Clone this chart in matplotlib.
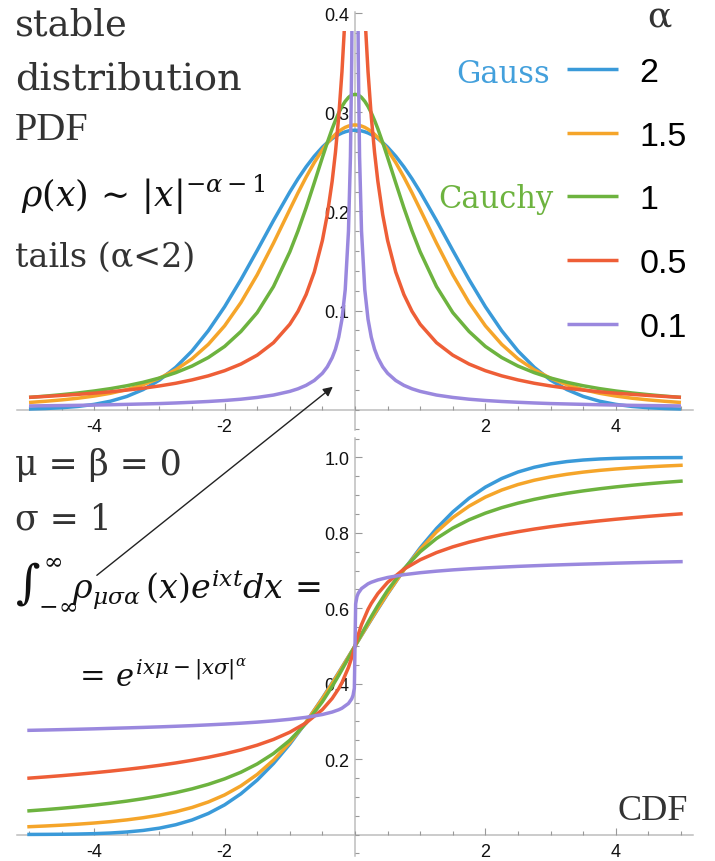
import numpy as np
import matplotlib
matplotlib.use("Agg")
import matplotlib.pyplot as plt
from matplotlib.patches import Rectangle, ConnectionPatch
from matplotlib.ticker import FixedLocator, MultipleLocator, FormatStrFormatter

plt.rcParams['mathtext.fontset'] = 'dejavuserif'

# stable distribution, mu = beta = 0, sigma = 1
alphas = ['2', '1.5', '1', '0.5', '0.1']
colors = ['#3a9ad9', '#f5a52a', '#6db33f', '#ee5e37', '#9a88de']

x_pdf = [-5, -4.75, -4.5, -4.25, -4, -3.75, -3.5, -3.25, -3, -2.75, -2.5, -2.25, -2,
         -1.75, -1.5, -1.25, -1, -0.875, -0.75, -0.625, -0.5, -0.425, -0.35, -0.3, -0.25,
         -0.2, -0.15, -0.1, -0.07, -0.05, -0.03, 0,
         0.03, 0.05, 0.07, 0.1, 0.15, 0.2, 0.25, 0.3, 0.35, 0.425, 0.5, 0.625, 0.75,
         0.875, 1, 1.25, 1.5, 1.75, 2, 2.25, 2.5, 2.75, 3, 3.25, 3.5, 3.75, 4, 4.25,
         4.5, 4.75, 5]

pdf_a2 = [0.0005, 0.0010, 0.0018, 0.0031, 0.0052, 0.0084, 0.0132, 0.0201, 0.0297, 0.0426,
          0.0591, 0.0796, 0.1038, 0.1312, 0.1607, 0.1909, 0.2197, 0.2330, 0.2451, 0.2558,
          0.2650, 0.2696, 0.2736, 0.2758, 0.2777, 0.2793, 0.2805, 0.2814, 0.2818, 0.2819,
          0.2820, 0.2821,
          0.2820, 0.2819, 0.2818, 0.2814, 0.2805, 0.2793, 0.2777, 0.2758, 0.2736, 0.2696,
          0.2650, 0.2558, 0.2451, 0.2330, 0.2197, 0.1909, 0.1607, 0.1312, 0.1038, 0.0796,
          0.0591, 0.0426, 0.0297, 0.0201, 0.0132, 0.0084, 0.0052, 0.0031, 0.0018, 0.0010,
          0.0005]
pdf_a15 = [0.0071, 0.0083, 0.0097, 0.0114, 0.0136, 0.0164, 0.0201, 0.0250, 0.0316, 0.0401,
           0.0512, 0.0658, 0.0845, 0.1080, 0.1361, 0.1681, 0.2020, 0.2188, 0.2347, 0.2494,
           0.2623, 0.2690, 0.2747, 0.2780, 0.2808, 0.2831, 0.2850, 0.2863, 0.2868, 0.2871,
           0.2873, 0.2874,
           0.2873, 0.2871, 0.2868, 0.2863, 0.2850, 0.2831, 0.2808, 0.2780, 0.2747, 0.2690,
           0.2623, 0.2494, 0.2347, 0.2188, 0.2020, 0.1681, 0.1361, 0.1080, 0.0845, 0.0658,
           0.0512, 0.0401, 0.0316, 0.0250, 0.0201, 0.0164, 0.0136, 0.0114, 0.0097, 0.0083,
           0.0071]
pdf_a1 = [0.0122, 0.0135, 0.0150, 0.0167, 0.0187, 0.0211, 0.0240, 0.0275, 0.0318, 0.0372,
          0.0439, 0.0525, 0.0637, 0.0788, 0.0979, 0.1242, 0.1592, 0.1803, 0.2037, 0.2289,
          0.2546, 0.2696, 0.2836, 0.2920, 0.2996, 0.3061, 0.3113, 0.3152, 0.3168, 0.3175,
          0.3180, 0.3183,
          0.3180, 0.3175, 0.3168, 0.3152, 0.3113, 0.3061, 0.2996, 0.2920, 0.2836, 0.2696,
          0.2546, 0.2289, 0.2037, 0.1803, 0.1592, 0.1242, 0.0979, 0.0788, 0.0637, 0.0525,
          0.0439, 0.0372, 0.0318, 0.0275, 0.0240, 0.0211, 0.0187, 0.0167, 0.0150, 0.0135,
          0.0122]
pdf_a05 = [0.0123, 0.0132, 0.0142, 0.0153, 0.0165, 0.0179, 0.0196, 0.0215, 0.0238, 0.0265,
           0.0299, 0.0340, 0.0392, 0.0459, 0.0549, 0.0675, 0.0861, 0.0991, 0.1161, 0.1388,
           0.1708, 0.1968, 0.2308, 0.2597, 0.2956, 0.3411, 0.400, 0.479, 0.535, 0.574,
           0.605, 0.6366,
           0.605, 0.574, 0.535, 0.479, 0.400, 0.3411, 0.2956, 0.2597, 0.2308, 0.1968,
           0.1708, 0.1388, 0.1161, 0.0991, 0.0861, 0.0675, 0.0549, 0.0459, 0.0392, 0.0340,
           0.0299, 0.0265, 0.0238, 0.0215, 0.0196, 0.0179, 0.0165, 0.0153, 0.0142, 0.0132,
           0.0123]
pdf_a01 = [0.0036, 0.0038, 0.0040, 0.0042, 0.0045, 0.0048, 0.0052, 0.0056, 0.0060, 0.0066,
           0.0073, 0.0081, 0.0091, 0.0104, 0.0122, 0.0146, 0.0183, 0.0209, 0.0244, 0.0293,
           0.0366, 0.0431, 0.0523, 0.0609, 0.0730, 0.0911, 0.1210, 0.1803, 0.2554, 0.3547,
           0.584, np.nan,
           0.584, 0.3547, 0.2554, 0.1803, 0.1210, 0.0911, 0.0730, 0.0609, 0.0523, 0.0431,
           0.0366, 0.0293, 0.0244, 0.0209, 0.0183, 0.0146, 0.0122, 0.0104, 0.0091, 0.0081,
           0.0073, 0.0066, 0.0060, 0.0056, 0.0052, 0.0048, 0.0045, 0.0042, 0.0040, 0.0038,
           0.0036]

x_cdf = [-5, -4.75, -4.5, -4.25, -4, -3.75, -3.5, -3.25, -3, -2.75, -2.5, -2.25, -2,
         -1.75, -1.5, -1.25, -1, -0.75, -0.5, -0.35, -0.25, -0.2, -0.1, -0.05, -0.03,
         -0.01, 0,
         0.01, 0.03, 0.05, 0.1, 0.2, 0.25, 0.35, 0.5, 0.75, 1, 1.25, 1.5, 1.75, 2, 2.25,
         2.5, 2.75, 3, 3.25, 3.5, 3.75, 4, 4.25, 4.5, 4.75, 5]

cdf_a2 = [0.0002, 0.0004, 0.0007, 0.0013, 0.0023, 0.0040, 0.0067, 0.0108, 0.0169, 0.0259,
          0.0385, 0.0558, 0.0786, 0.1080, 0.1444, 0.1884, 0.2398, 0.2979, 0.3618, 0.4023,
          0.4298, 0.4438, 0.4718, 0.4859, 0.4915, 0.4972, 0.5,
          0.5028, 0.5085, 0.5141, 0.5282, 0.5562, 0.5702, 0.5977, 0.6382, 0.7021, 0.7602,
          0.8116, 0.8556, 0.8920, 0.9214, 0.9442, 0.9615, 0.9741, 0.9831, 0.9892, 0.9933,
          0.9960, 0.9977, 0.9987, 0.9993, 0.9996, 0.9998]
cdf_a15 = [0.0207, 0.0226, 0.0248, 0.0274, 0.0305, 0.0342, 0.0388, 0.0445, 0.0515, 0.0603,
           0.0717, 0.0863, 0.1050, 0.1290, 0.1594, 0.1974, 0.2437, 0.2983, 0.3606, 0.4009,
           0.4287, 0.4428, 0.4713, 0.4856, 0.4914, 0.4971, 0.5,
           0.5029, 0.5086, 0.5144, 0.5287, 0.5572, 0.5713, 0.5991, 0.6394, 0.7017, 0.7563,
           0.8026, 0.8406, 0.8710, 0.8950, 0.9137, 0.9283, 0.9397, 0.9485, 0.9555, 0.9612,
           0.9658, 0.9695, 0.9726, 0.9752, 0.9774, 0.9793]
cdf_a1 = [0.0628, 0.0660, 0.0696, 0.0736, 0.0780, 0.0830, 0.0886, 0.0950, 0.1024, 0.1110,
          0.1211, 0.1331, 0.1476, 0.1652, 0.1872, 0.2148, 0.2500, 0.2952, 0.3524, 0.3928,
          0.4220, 0.4372, 0.4683, 0.4841, 0.4905, 0.4968, 0.5,
          0.5032, 0.5095, 0.5159, 0.5317, 0.5628, 0.5780, 0.6072, 0.6476, 0.7048, 0.7500,
          0.7852, 0.8128, 0.8348, 0.8524, 0.8669, 0.8789, 0.8890, 0.8976, 0.9050, 0.9114,
          0.9170, 0.9220, 0.9264, 0.9304, 0.9340, 0.9372]
cdf_a05 = [0.1495, 0.1527, 0.1561, 0.1598, 0.1638, 0.1681, 0.1728, 0.1779, 0.1835, 0.1898,
           0.1969, 0.2048, 0.2139, 0.2245, 0.2370, 0.2522, 0.2713, 0.2962, 0.3313, 0.3610,
           0.3871, 0.4029, 0.4433, 0.4698, 0.4814, 0.4937, 0.5,
           0.5063, 0.5186, 0.5302, 0.5567, 0.5971, 0.6129, 0.6390, 0.6687, 0.7038, 0.7287,
           0.7478, 0.7630, 0.7755, 0.7861, 0.7952, 0.8031, 0.8102, 0.8165, 0.8221, 0.8272,
           0.8319, 0.8362, 0.8402, 0.8439, 0.8473, 0.8505]
cdf_a01 = [0.2763, 0.2772, 0.2782, 0.2792, 0.2803, 0.2816, 0.2828, 0.2841, 0.2855, 0.2871,
           0.2888, 0.2908, 0.2929, 0.2953, 0.2981, 0.3015, 0.3056, 0.3108, 0.3183, 0.3248,
           0.3309, 0.3350, 0.3476, 0.3600, 0.3690, 0.3882, 0.5,
           0.6118, 0.6310, 0.6400, 0.6524, 0.6650, 0.6691, 0.6752, 0.6817, 0.6892, 0.6944,
           0.6985, 0.7019, 0.7047, 0.7071, 0.7092, 0.7112, 0.7129, 0.7145, 0.7159, 0.7172,
           0.7184, 0.7197, 0.7208, 0.7218, 0.7228, 0.7237]

pdfs = [pdf_a2, pdf_a15, pdf_a1, pdf_a05, pdf_a01]
cdfs = [cdf_a2, cdf_a15, cdf_a1, cdf_a05, cdf_a01]

W, H = 715, 862
fig = plt.figure(figsize=(W / 100, H / 100), dpi=100)

def fx(px):
    return px / W

def fy(py):
    return 1 - py / H

ax1 = fig.add_axes([fx(17.3), fy(431), fx(675.4), (431 - 13) / H])
ax2 = fig.add_axes([fx(17.3), fy(856.7), fx(675.4), (856.7 - 439) / H])

axis_col = '#bdbdbd'
for ax in (ax1, ax2):
    ax.patch.set_visible(False)
    ax.set_xlim(-5.18, 5.18)
    for s in ('top', 'right'):
        ax.spines[s].set_visible(False)
    ax.spines['left'].set_position(('data', 0))
    ax.spines['bottom'].set_position(('data', 0))
    for s in ('left', 'bottom'):
        ax.spines[s].set_color(axis_col)
        ax.spines[s].set_linewidth(1.1)
        ax.spines[s].set_zorder(0.5)
    ax.xaxis.set_major_locator(FixedLocator([-4, -2, 2, 4]))
    ax.xaxis.set_minor_locator(MultipleLocator(0.5))
    ax.tick_params(which='both', direction='in', colors='#999999', width=0.8,
                   labelcolor='#111111', labelsize=13)
    ax.tick_params(which='major', length=5)
    ax.tick_params(which='minor', length=3)
    ax.tick_params(axis='x', pad=6)
    ax.tick_params(axis='y', pad=4)
    ax.xaxis.set_major_formatter(FormatStrFormatter('%d'))

ax1.set_ylim(-0.0207, 0.4015)
ax1.yaxis.set_major_locator(FixedLocator([0.1, 0.2, 0.3, 0.4]))
ax1.yaxis.set_minor_locator(MultipleLocator(0.02))
ax1.yaxis.set_major_formatter(FormatStrFormatter('%.1f'))

ax2.set_ylim(-0.0562, 1.0517)
ax2.yaxis.set_major_locator(FixedLocator([0.2, 0.4, 0.6, 0.8, 1.0]))
ax2.yaxis.set_minor_locator(MultipleLocator(0.05))
ax2.yaxis.set_major_formatter(FormatStrFormatter('%.1f'))

for ax in (ax1, ax2):
    for lab in ax.get_xticklabels() + ax.get_yticklabels():
        lab.set_family('Liberation Sans')

clip = Rectangle((-6, -1), 12, 1.382, transform=ax1.transData, visible=False)
ax1.add_patch(clip)

handles = []
for vals, c in zip(pdfs, colors):
    ln, = ax1.plot(x_pdf, vals, color=c, lw=2.5, solid_capstyle='butt', zorder=2)
    ln.set_clip_path(clip)
    handles.append(ln)

for vals, c in zip(cdfs, colors):
    ax2.plot(x_cdf, vals, color=c, lw=2.5, zorder=2, clip_on=False)

# legend
fig.legend(handles, alphas, loc='upper left', bbox_to_anchor=(fx(567), fy(58)),
           frameon=False, handlelength=1.5, handletextpad=0.62, labelspacing=0.96,
           borderpad=0, borderaxespad=0,
           prop={'family': 'Liberation Sans', 'size': 24.5})

serif = 'DejaVu Serif'
tc = '#333333'
fig.text(fx(659), fy(27), 'α', ha='center', va='baseline', fontsize=26, color=tc,
         family=serif)
fig.text(fx(550), fy(83), 'Gauss', ha='right', va='baseline', fontsize=22,
         color='#43a0dc', family=serif)
fig.text(fx(553), fy(208), 'Cauchy', ha='right', va='baseline', fontsize=22,
         color=colors[2], family=serif)

fig.text(fx(15), fy(35), 'stable', fontsize=26.5, color=tc, family=serif, va='baseline')
fig.text(fx(15), fy(89), 'distribution', fontsize=27.5, color=tc, family=serif,
         va='baseline')
fig.text(fx(15), fy(140), 'PDF', fontsize=29, color=tc, family='Liberation Serif',
         va='baseline')
fig.text(fx(21), fy(207), r'$\rho(x)\,\sim\,|x|^{-\alpha-1}$', fontsize=25, color='#111111',
         va='baseline')
fig.text(fx(15), fy(267), 'tails (α<2)', fontsize=24, color=tc, family=serif,
         va='baseline')

fig.text(fx(15), fy(475), 'μ = β = 0', fontsize=25, color=tc, family=serif,
         va='baseline')
fig.text(fx(15), fy(530), 'σ = 1', fontsize=25, color=tc, family=serif, va='baseline')
fig.text(fx(15), fy(597),
         r'$\int_{-\infty}^{\infty}\!\rho_{\mu\sigma\alpha}\,(x)e^{ixt}dx\,=$',
         fontsize=24, color='#111111', va='baseline')
fig.text(fx(74), fy(687), r'$=\,e^{ix\mu-|x\sigma|^{\alpha}}$', fontsize=22,
         color='#111111', va='baseline')
fig.text(fx(688), fy(820), 'CDF', ha='right', fontsize=26, color=tc,
         family='Liberation Serif', va='baseline')

arrow = ConnectionPatch(xyA=(-3.96, 0.6875), coordsA=ax2.transData,
                        xyB=(-0.34, 0.023), coordsB=ax1.transData,
                        arrowstyle='-|>', color='#222222', lw=1.0, mutation_scale=14)
fig.add_artist(arrow)

fig.savefig('out.png', dpi=100)
